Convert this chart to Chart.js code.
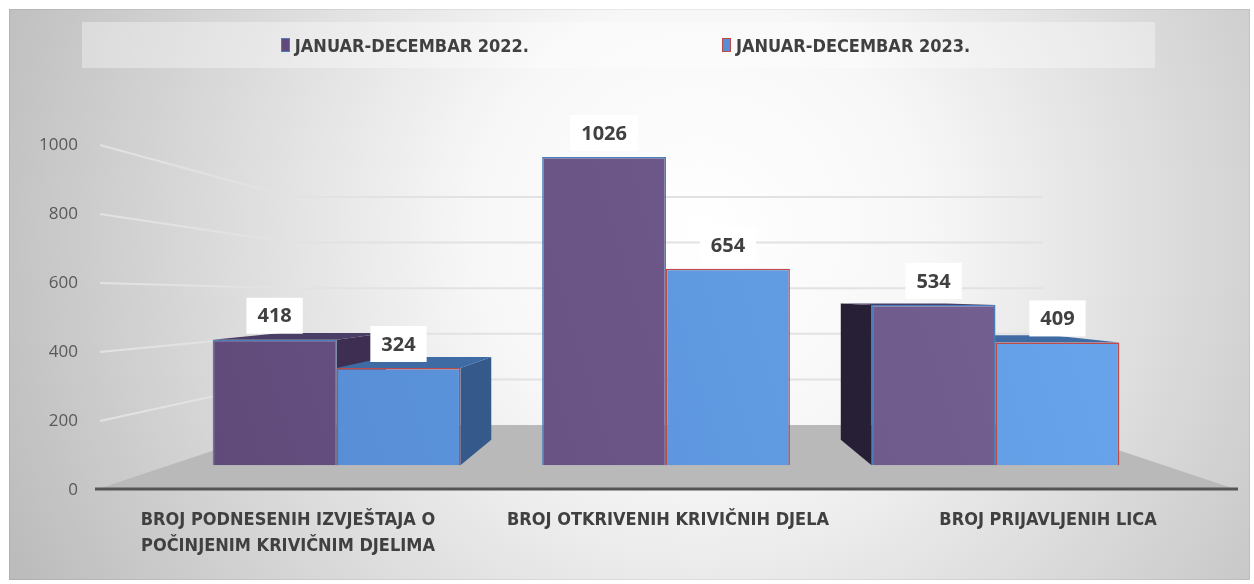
<!DOCTYPE html>
<html lang="bs">
<head>
<meta charset="utf-8">
<title>Izvještaji i krivična djela</title>
<script src="https://cdn.jsdelivr.net/npm/chart.js@4.4.1/dist/chart.umd.min.js"></script>
<style>
    html, body { margin: 0; padding: 0; background: #fff; }
    #wrap { position: relative; width: 1254px; height: 584px; }
    #grafikon { position: absolute; left: 0; top: 0; }
    #legenda {
        position: absolute; left: 82px; top: 22px; width: 1073px; height: 46px;
        background: rgba(255, 255, 255, 0.35);
        display: flex; align-items: center; justify-content: center; gap: 193px;
        padding-left: 14px; box-sizing: border-box;
        font: bold 18px "Liberation Sans Narrow", "DejaVu Sans Condensed", sans-serif;
        color: #404040;
    }
    .stavka { display: flex; align-items: center; white-space: nowrap; }
    .kvadrat { width: 7px; height: 12px; margin-right: 5px; border: 1.5px solid; }
</style>
</head>
<body>
<div id="wrap">
    <canvas id="grafikon" width="1254" height="584"></canvas>
    <div id="legenda"></div>
</div>
<script>
/* Podaci sa grafikona */
const kategorije = [
    ["BROJ PODNESENIH IZVJEŠTAJA O", "POČINJENIM KRIVIČNIM DJELIMA"],
    "BROJ OTKRIVENIH KRIVIČNIH DJELA",
    "BROJ PRIJAVLJENIH LICA",
];
const nazivi = ["JANUAR-DECEMBAR 2022.", "JANUAR-DECEMBAR 2023."];
const godina2022 = [418, 1026, 534];
const godina2023 = [324, 654, 409];
const yPodjele = [0, 200, 400, 600, 800, 1000];

/* Boje serija */
const boje = [
    { gore: "#7b6699", dolje: "#5d4777", rub: "#4a7ebb", desno: "#3d2e52", lijevo: "#271f35", vrh: "#4a3d66", oznaka: "#604a7b" },
    { gore: "#6aa8ee", dolje: "#5388d1", rub: "#be4b48", desno: "#35598a", lijevo: "#2f5280", vrh: "#3e6ba3", oznaka: "#558ed5" },
];

const fontUski = "'Liberation Sans Narrow', 'DejaVu Sans Condensed', sans-serif";

/* Stubići stoje na indeksima kategorija (0, 1, 2) */
const tacke = (niz) => niz.map((v, i) => ({ x: i, y: v }));

/* Gradijent za prednju stranu stubića */
function gradijent(context, b) {
    const area = context.chart.chartArea;
    if (!area) return b.dolje;
    const g = context.chart.ctx.createLinearGradient(area.left, area.bottom, area.right, area.top);
    g.addColorStop(0, b.dolje);
    g.addColorStop(1, b.gore);
    return g;
}

/* Pozadina panela */
const pozadina = {
    id: "pozadina",
    beforeDraw(chart) {
        const ctx = chart.ctx;
        ctx.save();
        ctx.fillStyle = "#fff";
        ctx.fillRect(0, 0, chart.width, chart.height);
        const g = ctx.createRadialGradient(700, 230, 0, 700, 230, 760);
        g.addColorStop(0, "#ffffff");
        g.addColorStop(0.3, "#f7f7f7");
        g.addColorStop(1, "#bcbcbc");
        ctx.fillStyle = g;
        ctx.fillRect(9, 9, chart.width - 13, chart.height - 13);
        ctx.strokeStyle = "rgba(0,0,0,0.06)";
        ctx.strokeRect(9.5, 9.5, chart.width - 14, chart.height - 14);
        ctx.restore();
    },
};

/* Zid, pod i bočne strane stubića (3D izgled) */
const scena = {
    id: "scena",
    beforeDatasetsDraw(chart) {
        const ctx = chart.ctx;
        const { left, right, top } = chart.chartArea;
        const y = chart.scales.y;
        const yw = chart.scales.yw;
        const y0 = y.getPixelForValue(0);
        const zid = yw.getPixelForValue(0);
        const podLijevo = left - 3, podDesno = right;
        const zidLijevo = left + 192, zidDesno = right - 195;

        ctx.save();
        // linije mreže: od ose ka zadnjem zidu
        ctx.strokeStyle = "#e2e2e2";
        ctx.lineWidth = 2;
        y.ticks.forEach((t) => {
            if (t.value === 0) return;
            ctx.beginPath();
            ctx.moveTo(podLijevo + 5, y.getPixelForValue(t.value));
            ctx.lineTo(zidLijevo, yw.getPixelForValue(t.value));
            ctx.lineTo(zidDesno, yw.getPixelForValue(t.value));
            ctx.stroke();
        });

        // pod
        ctx.fillStyle = "#b9b9b9";
        ctx.beginPath();
        ctx.moveTo(podLijevo, y0);
        ctx.lineTo(zidLijevo, zid);
        ctx.lineTo(zidDesno, zid);
        ctx.lineTo(podDesno, y0);
        ctx.closePath();
        ctx.fill();

        // osa
        ctx.strokeStyle = "#555";
        ctx.lineWidth = 3;
        ctx.beginPath();
        ctx.moveTo(podLijevo, y0 - 1);
        ctx.lineTo(podDesno, y0 - 1);
        ctx.stroke();

        // bočne strane i vrhovi stubića
        const vx = chart.scales.xb.getPixelForValue(1), vy = top + 150, s = 0.85;
        const f = (px, py) => [vx + s * (px - vx), vy + s * (py - vy)];
        const poligon = (tt, boja) => {
            ctx.fillStyle = boja;
            ctx.beginPath();
            ctx.moveTo(tt[0][0], tt[0][1]);
            tt.slice(1).forEach((p) => ctx.lineTo(p[0], p[1]));
            ctx.closePath();
            ctx.fill();
        };
        chart.data.datasets.forEach((ds, i) => {
            const b = boje[i];
            chart.getDatasetMeta(i).data.forEach((el) => {
                const p = el.getProps(["x", "y", "base", "width"], true);
                const L = p.x - p.width / 2, R = p.x + p.width / 2, T = p.y, B = p.base;
                if (R < vx - 1) poligon([[R, T], [R, B], f(R, B), f(R, T)], b.desno);
                if (L > vx + 1) poligon([[L, T], [L, B], f(L, B), f(L, T)], b.lijevo);
                if (T > vy) poligon([[L, T], [R, T], f(R, T), f(L, T)], b.vrh);
            });
        });
        ctx.restore();
    },
};

/* Vrijednosti iznad stubića na bijeloj podlozi */
const vrijednosti = {
    id: "vrijednosti",
    afterDatasetsDraw(chart) {
        const ctx = chart.ctx;
        ctx.save();
        ctx.font = "bold 20px 'Open Sans', sans-serif";
        ctx.textAlign = "center";
        ctx.textBaseline = "middle";
        chart.data.datasets.forEach((ds, i) => {
            chart.getDatasetMeta(i).data.forEach((el, j) => {
                const tekst = String(ds.data[j].y);
                const w = ctx.measureText(tekst).width + 22;
                const h = 36;
                const dno = el.y - 6;
                ctx.fillStyle = "#fff";
                ctx.fillRect(el.x - w / 2, dno - h, w, h);
                ctx.fillStyle = "#404040";
                ctx.fillText(tekst, el.x, dno - h / 2 + 1);
            });
        });
        ctx.restore();
    },
};

/* Kreira grafikon */
const chart = new Chart(document.getElementById("grafikon"), {
    type: "bar",
    data: {
        labels: kategorije,
        datasets: [
            {
                label: nazivi[0],
                data: tacke(godina2022),
                xAxisID: "xb",
                yAxisID: "yb",
                backgroundColor: (c) => gradijent(c, boje[0]),
                borderColor: boje[0].rub,
                borderWidth: 1.5,
            },
            {
                label: nazivi[1],
                data: tacke(godina2023),
                xAxisID: "xb",
                yAxisID: "yb",
                backgroundColor: (c) => gradijent(c, boje[1]),
                borderColor: boje[1].rub,
                borderWidth: 1.5,
            },
        ],
    },
    options: {
        responsive: false,
        animation: false,
        layout: { padding: { top: 145, right: 16, bottom: 24, left: 0 } },
        datasets: { bar: { barPercentage: 1, categoryPercentage: 0.752 } },
        plugins: { legend: { display: false }, tooltip: { enabled: false } },
        scales: {
            // vidljiva osa sa nazivima kategorija (prednja ivica poda)
            x: {
                type: "category",
                offset: true,
                grid: { display: false, drawTicks: false },
                border: { display: false },
                ticks: {
                    color: "#404040",
                    font: { family: fontUski, size: 18, weight: "bold", lineHeight: 1.42 },
                    padding: 18,
                    maxRotation: 0,
                    autoSkip: false,
                },
                afterFit(scale) { scale.height = 70; },
            },
            // skala za stubiće (perspektiva), podjele samo na kategorijama
            xb: {
                type: "linear",
                display: false,
                offset: false,
                min: -0.724,
                max: 2.736,
                ticks: { stepSize: 1, includeBounds: false },
            },
            // vidljiva osa sa podjelama
            y: {
                position: "left",
                min: yPodjele[0],
                max: yPodjele[yPodjele.length - 1],
                ticks: {
                    stepSize: yPodjele[1] - yPodjele[0],
                    color: "#595959",
                    font: { family: "'Open Sans', sans-serif", size: 17 },
                    padding: 20,
                    callback: (v) => String(v),
                },
                grid: { display: false, drawTicks: false },
                border: { display: false },
                afterFit(scale) { scale.width = 98; },
            },
            // skala za prednju stranu stubića (perspektiva)
            yb: { display: false, min: -82, max: 1066 },
            // skala za zadnji zid
            yw: { display: false, min: -285, max: 1228 },
        },
    },
    plugins: [pozadina, scena, vrijednosti],
});

/* Legenda iz podataka grafikona */
const legenda = document.getElementById("legenda");
chart.data.datasets.forEach((ds, i) => {
    const stavka = document.createElement("div");
    stavka.className = "stavka";
    const kvadrat = document.createElement("span");
    kvadrat.className = "kvadrat";
    kvadrat.style.background = boje[i].oznaka;
    kvadrat.style.borderColor = boje[i].rub;
    stavka.appendChild(kvadrat);
    stavka.appendChild(document.createTextNode(ds.label));
    legenda.appendChild(stavka);
});
</script>
</body>
</html>
